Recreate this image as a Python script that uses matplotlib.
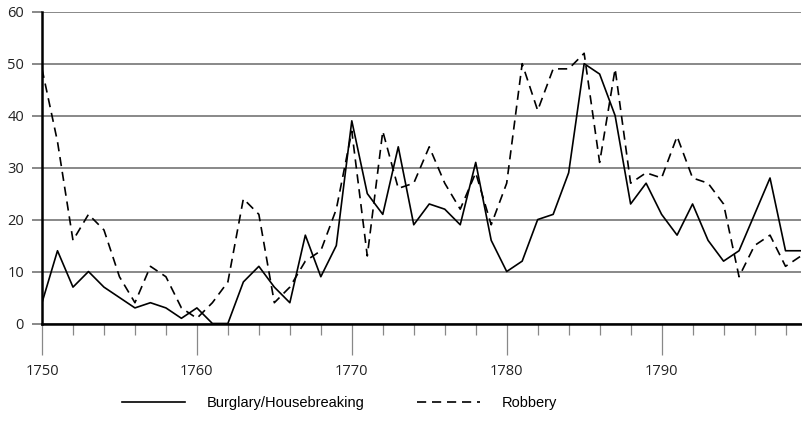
import matplotlib
matplotlib.use("Agg")
import numpy as np
from matplotlib import pyplot as plt

years = list(range(1750, 1800))

burglary = [4, 14, 7, 10, 7, 5, 3, 4, 3, 1,
            3, 0, 0, 8, 11, 7, 4, 17, 9, 15,
            39, 25, 21, 34, 19, 23, 22, 19, 31, 16,
            10, 12, 20, 21, 29, 50, 48, 40, 23, 27,
            21, 17, 23, 16, 12, 14, 21, 28, 14, 14]

robbery = [49, 35, 16, 21, 18, 9, 4, 11, 9, 3,
           1, 4, 8, 24, 21, 4, 7, 12, 14, 22,
           37, 13, 37, 26, 27, 34, 27, 22, 29, 19,
           27, 50, 41, 49, 49, 52, 31, 49, 27, 29,
           28, 36, 28, 27, 23, 9, 15, 17, 11, 13]

y_ticks = [0, 10, 20, 30, 40, 50, 60]
x_ticks = [1750, 1760, 1770, 1780, 1790]

plt.rcParams['font.family'] = ['Liberation Sans', 'DejaVu Sans']

W, H = 802, 424
fig = plt.figure(figsize=(W / 100, H / 100), dpi=100)
left, right, top, bottom = 42, 801, 11.7, 323.5
ax = fig.add_axes([left / W, (H - bottom) / H, (right - left) / W, (bottom - top) / H])

grey = '#888888'
ax.set_ylim(0, 60)
ax.set_xlim(1750, 1799)
ax.set_yticks(y_ticks)
ax.set_xticks(x_ticks)
ax.set_xticks(range(1752, 1800, 2), minor=True)
ax.yaxis.grid(True, color=grey, linewidth=1.4)
ax.set_axisbelow(True)

for s in ['top', 'right']:
    ax.spines[s].set_visible(False)
ax.spines['left'].set_linewidth(1.8)
ax.spines['bottom'].set_linewidth(1.8)
ax.spines['left'].set_zorder(5)
ax.spines['bottom'].set_zorder(5)

ax.tick_params(axis='y', length=7.5, width=1.4, color=grey, labelsize=10.5, pad=5.5)
ax.tick_params(axis='x', which='major', length=22, width=0.9, color=grey, labelsize=10.5, pad=7)
ax.tick_params(axis='x', which='minor', length=8, width=0.9, color=grey)
for lab in ax.get_xticklabels() + ax.get_yticklabels():
    lab.set_family(['Open Sans', 'DejaVu Sans'])
    lab.set_color('#222222')

l1, = ax.plot(years, burglary, color='black', linewidth=1.2, label='Burglary/Housebreaking',
              zorder=3)
l2, = ax.plot(years, robbery, color='black', linewidth=1.2, linestyle=(0, (5.5, 3.5)),
              label='Robbery', zorder=3)

fig.legend(handles=[l1, l2], loc='center left', bbox_to_anchor=(122 / W, 1 - 403 / H),
           ncol=2, frameon=False, fontsize=10.5, handlelength=4.3, handletextpad=1.5,
           columnspacing=3.6, borderpad=0, borderaxespad=0)

fig.savefig('out.png', dpi=100)
